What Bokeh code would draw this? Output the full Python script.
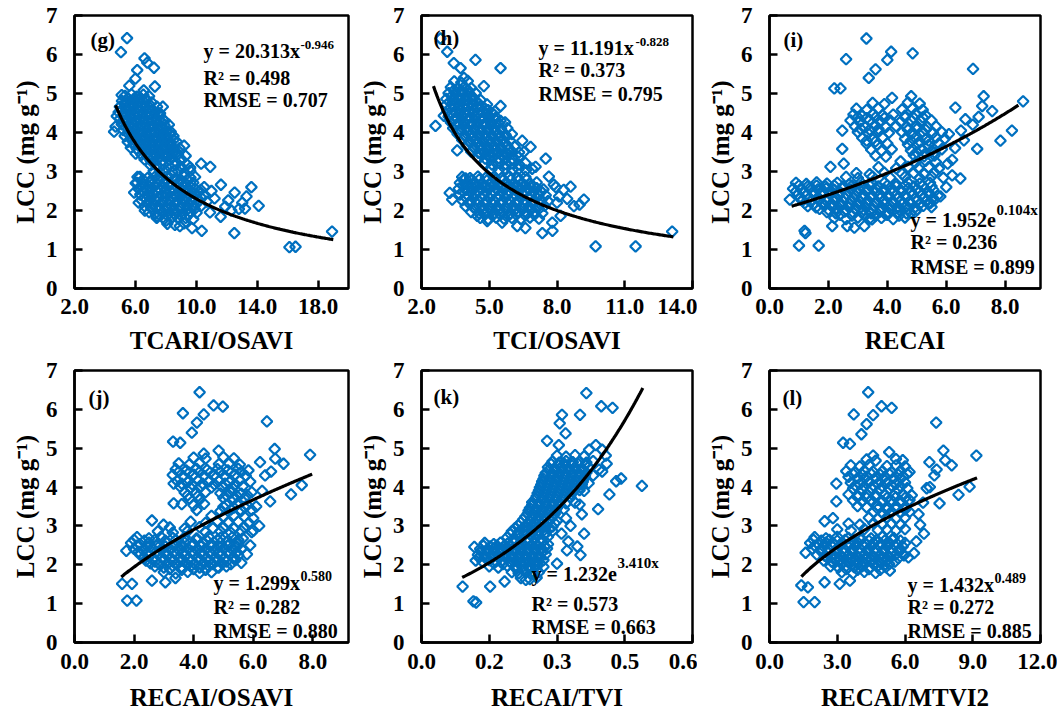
import numpy as np
from bokeh.plotting import figure
from bokeh.layouts import row, column
from bokeh.models import FixedTicker, Range1d, Label
from bokeh.embed import file_html
from bokeh.resources import INLINE

FONT = "Liberation Serif"
BLUE = "#0070C0"

# ---------------- shared axis values ----------------
y_ticks = [0, 1, 2, 3, 4, 5, 6, 7]
y_title = "LCC (mg g\u207b\u00b9)"

# ---------------- panel (g) ----------------
g_title = "TCARI/OSAVI"
g_xrange = [2, 20]
g_xticks = [2, 6, 10, 14, 18]
g_xticklabels = ["2.0", "6.0", "10.0", "14.0", "18.0"]
g_fit = ["power", 20.313, -0.946]
g_fit_x = [4.7, 19.0]
g_stats = ["y = 20.313x", "-0.946", "R\u00b2 = 0.498", "RMSE = 0.707"]
g_points = [
    (5.45, 6.42), (5.05, 6.06), (6.6, 5.9), (6.78, 5.79), (7.22, 5.66), (6.12, 5.6), (6.0, 5.38), (7.28, 5.18), (6.55, 5.08), (5.6, 5.2),
    (7.8, 4.66), (7.92, 4.3), (5.1, 4.96), (4.7, 4.15), (4.6, 4.02), (4.78, 4.42), (9.2, 3.66), (9.3, 3.4), (10.32, 3.2), (10.92, 3.12),
    (9.6, 3.1), (11.62, 2.66), (12.52, 2.46), (13.62, 2.6), (14.1, 2.12), (12.5, 1.42), (11.6, 1.84), (10.36, 1.48), (8.92, 1.6), (9.72, 1.55),
    (16.12, 1.06), (16.52, 1.07), (18.92, 1.46), (13.02, 2.2), (13.3, 2.36), (12.8, 2.04), (12.1, 2.26), (11.2, 2.31), (11.0, 2.5), (11.9, 2.1),
    (10.9, 1.95), (12.3, 2.0), (13.2, 2.05), (8.02, 1.74), (7.42, 1.86), (6.62, 2.0), (6.22, 2.2), (5.92, 2.46), (6.02, 2.7), (6.14, 2.86),
    (9.92, 2.86), (10.52, 2.6), (8.52, 3.5), (8.92, 3.3),
    (5.32, 4.94), (5.74, 4.98), (6.08, 4.92), (6.52, 4.97), (6.9, 4.93),
    (5.12, 4.81), (5.5, 4.78), (5.92, 4.83), (6.3, 4.79), (6.72, 4.82), (7.08, 4.77),
    (4.98, 4.66), (5.4, 4.63), (5.82, 4.68), (6.2, 4.64), (6.62, 4.67), (7.0, 4.62), (7.42, 4.66),
    (4.9, 4.52), (5.28, 4.48), (5.7, 4.53), (6.1, 4.49), (6.5, 4.51), (6.92, 4.47), (7.3, 4.52), (7.62, 4.49),
    (5.0, 4.36), (5.4, 4.33), (5.8, 4.37), (6.22, 4.34), (6.6, 4.36), (7.02, 4.32), (7.4, 4.37), (7.8, 4.34),
    (5.1, 4.21), (5.52, 4.18), (5.9, 4.22), (6.3, 4.19), (6.72, 4.21), (7.1, 4.17), (7.52, 4.22), (7.9, 4.19), (8.2, 4.2),
    (5.2, 4.06), (5.6, 4.03), (6.02, 4.07), (6.4, 4.04), (6.8, 4.06), (7.22, 4.02), (7.6, 4.07), (8.0, 4.04), (8.32, 4.02),
    (5.3, 3.91), (5.72, 3.88), (6.1, 3.92), (6.52, 3.89), (6.9, 3.91), (7.3, 3.87), (7.72, 3.92), (8.1, 3.89), (8.5, 3.91),
    (5.5, 3.76), (5.9, 3.73), (6.3, 3.77), (6.72, 3.74), (7.1, 3.76), (7.52, 3.72), (7.9, 3.77), (8.3, 3.74), (8.72, 3.76),
    (5.7, 3.61), (6.1, 3.58), (6.52, 3.62), (6.9, 3.59), (7.32, 3.61), (7.7, 3.57), (8.1, 3.62), (8.52, 3.59), (8.9, 3.6),
    (6.02, 3.46), (6.4, 3.43), (6.8, 3.47), (7.22, 3.44), (7.6, 3.46), (8.02, 3.42), (8.4, 3.47), (8.8, 3.44),
    (6.6, 3.31), (7.0, 3.28), (7.42, 3.32), (7.8, 3.29), (8.22, 3.31), (8.6, 3.27), (9.0, 3.32),
    (7.0, 3.16), (7.4, 3.13), (7.82, 3.17), (8.2, 3.14), (8.62, 3.16), (9.0, 3.12), (9.42, 3.17),
    (7.2, 3.01), (7.62, 2.98), (8.0, 3.02), (8.42, 2.99), (8.8, 3.01), (9.22, 2.97), (9.6, 3.02),
    (6.3, 2.86), (6.8, 2.83), (7.3, 2.87), (7.72, 2.84), (8.2, 2.86), (8.7, 2.82), (9.2, 2.87), (9.62, 2.84),
    (6.12, 2.71), (6.52, 2.68), (7.0, 2.72), (7.42, 2.69), (7.9, 2.71), (8.32, 2.67), (8.8, 2.72), (9.3, 2.69), (9.8, 2.71),
    (6.2, 2.56), (6.7, 2.53), (7.12, 2.57), (7.6, 2.54), (8.02, 2.56), (8.5, 2.52), (9.0, 2.57), (9.42, 2.54), (9.9, 2.56), (10.3, 2.53),
    (6.32, 2.41), (6.8, 2.38), (7.22, 2.42), (7.7, 2.39), (8.12, 2.41), (8.6, 2.37), (9.1, 2.42), (9.52, 2.39), (10.0, 2.41), (10.5, 2.38),
    (6.42, 2.26), (6.9, 2.23), (7.32, 2.27), (7.8, 2.24), (8.3, 2.26), (8.72, 2.22), (9.2, 2.27), (9.7, 2.24), (10.2, 2.26), (10.7, 2.23),
    (6.6, 2.11), (7.02, 2.08), (7.5, 2.12), (8.0, 2.09), (8.42, 2.11), (8.9, 2.07), (9.4, 2.12), (9.82, 2.09), (10.3, 2.11),
    (6.9, 1.96), (7.32, 1.93), (7.8, 1.97), (8.22, 1.94), (8.7, 1.96), (9.12, 1.92), (9.6, 1.97), (10.02, 1.94),
    (7.4, 1.81), (7.9, 1.78), (8.4, 1.82), (8.82, 1.79), (9.3, 1.81), (9.8, 1.78),
    (8.1, 1.66), (8.6, 1.63), (9.2, 1.67),
]
g_points_core = [
    (5.5, 4.88), (5.9, 4.86), (6.3, 4.88), (6.7, 4.86),
    (5.3, 4.73), (5.7, 4.71), (6.1, 4.73), (6.5, 4.71), (6.9, 4.73),
    (5.1, 4.58), (5.5, 4.56), (5.9, 4.58), (6.3, 4.56), (6.7, 4.58), (7.1, 4.56),
    (5.2, 4.43), (5.6, 4.41), (6.0, 4.43), (6.4, 4.41), (6.8, 4.43), (7.2, 4.41), (7.6, 4.43),
    (5.3, 4.28), (5.7, 4.26), (6.1, 4.28), (6.5, 4.26), (6.9, 4.28), (7.3, 4.26), (7.7, 4.28),
    (5.4, 4.13), (5.8, 4.11), (6.2, 4.13), (6.6, 4.11), (7.0, 4.13), (7.4, 4.11), (7.8, 4.13),
    (5.5, 3.98), (5.9, 3.96), (6.3, 3.98), (6.7, 3.96), (7.1, 3.98), (7.5, 3.96), (7.9, 3.98), (8.3, 3.96),
    (5.7, 3.83), (6.1, 3.81), (6.5, 3.83), (6.9, 3.81), (7.3, 3.83), (7.7, 3.81), (8.1, 3.83), (8.5, 3.81),
    (5.9, 3.68), (6.3, 3.66), (6.7, 3.68), (7.1, 3.66), (7.5, 3.68), (7.9, 3.66), (8.3, 3.68),
    (6.2, 3.53), (6.6, 3.51), (7.0, 3.53), (7.4, 3.51), (7.8, 3.53), (8.2, 3.51), (8.6, 3.53),
    (6.8, 3.38), (7.2, 3.36), (7.6, 3.38), (8.0, 3.36), (8.4, 3.38),
    (6.5, 2.79), (7.0, 2.77), (7.5, 2.79), (8.0, 2.77), (8.5, 2.79), (9.0, 2.77), (9.4, 2.79),
    (6.4, 2.64), (6.9, 2.62), (7.3, 2.64), (7.8, 2.62), (8.2, 2.64), (8.7, 2.62), (9.2, 2.64), (9.6, 2.62),
    (6.5, 2.49), (6.9, 2.47), (7.4, 2.49), (7.9, 2.47), (8.3, 2.49), (8.8, 2.47), (9.3, 2.49), (9.7, 2.47), (10.2, 2.49),
    (6.6, 2.34), (7.0, 2.32), (7.5, 2.34), (7.9, 2.32), (8.4, 2.34), (8.9, 2.32), (9.4, 2.34), (9.8, 2.32), (10.3, 2.34),
    (6.8, 2.19), (7.2, 2.17), (7.7, 2.19), (8.2, 2.17), (8.6, 2.19), (9.1, 2.17), (9.5, 2.19), (10.0, 2.17),
    (7.1, 2.04), (7.6, 2.02), (8.1, 2.04), (8.5, 2.02), (9.0, 2.04), (9.4, 2.02), (9.9, 2.04),
    (7.6, 1.89), (8.1, 1.87), (8.6, 1.89), (9.0, 1.87), (9.5, 1.89),
]

# ---------------- panel (h) ----------------
h_title = "TCI/OSAVI"
h_xrange = [2, 14]
h_xticks = [2, 5, 8, 11, 14]
h_xticklabels = ["2.0", "5.0", "8.0", "11.0", "14.0"]
h_fit = ["power", 11.191, -0.828]
h_fit_x = [2.53, 13.15]
h_stats = ["y = 11.191x", "-0.828", "R\u00b2 = 0.373", "RMSE = 0.795"]
h_points = [
    (2.84, 6.41), (3.14, 6.07), (3.43, 5.78), (3.73, 5.65), (3.88, 5.4), (4.39, 5.86), (5.5, 5.65), (4.76, 5.19), (5.5, 4.68), (5.5, 4.3),
    (2.62, 4.17), (2.99, 4.43), (6.46, 3.79), (6.83, 3.63), (6.53, 3.5), (7.5, 3.33), (7.05, 3.12), (7.86, 2.66), (8.6, 2.61), (9.19, 2.28),
    (8.75, 2.11), (8.16, 1.86), (7.79, 1.69), (7.35, 1.42), (7.8, 1.48), (9.71, 1.08), (11.48, 1.08), (13.1, 1.46), (3.36, 2.28), (3.95, 2.82),
    (3.58, 3.54), (4.47, 1.86), (4.91, 1.73), (5.57, 1.69), (6.24, 1.6), (7.64, 2.87), (8.3, 2.53), (8.09, 2.36), (6.6, 1.55), (3.25, 2.45),
    (8.0, 2.2), (7.95, 2.6), (9.0, 2.15), (8.45, 2.3),
    (3.45, 5.31), (3.76, 5.28), (4.05, 5.32),
    (3.3, 5.16), (3.62, 5.13), (3.9, 5.17), (4.2, 5.14),
    (3.2, 5.01), (3.52, 4.98), (3.8, 5.02), (4.12, 4.99), (4.4, 5.01),
    (3.1, 4.86), (3.42, 4.83), (3.7, 4.87), (4.02, 4.84), (4.3, 4.86), (4.62, 4.83),
    (3.1, 4.71), (3.42, 4.68), (3.7, 4.72), (4.02, 4.69), (4.3, 4.71), (4.62, 4.68), (4.9, 4.72),
    (3.15, 4.56), (3.47, 4.53), (3.75, 4.57), (4.07, 4.54), (4.35, 4.56), (4.67, 4.53), (4.95, 4.57), (5.25, 4.54),
    (3.2, 4.41), (3.52, 4.38), (3.8, 4.42), (4.12, 4.39), (4.4, 4.41), (4.72, 4.38), (5.0, 4.42), (5.3, 4.39),
    (3.3, 4.26), (3.62, 4.23), (3.9, 4.27), (4.22, 4.24), (4.5, 4.26), (4.82, 4.23), (5.1, 4.27), (5.42, 4.24), (5.7, 4.26),
    (3.4, 4.11), (3.72, 4.08), (4.0, 4.12), (4.32, 4.09), (4.6, 4.11), (4.92, 4.08), (5.2, 4.12), (5.52, 4.09), (5.8, 4.11),
    (3.6, 3.96), (3.92, 3.93), (4.2, 3.97), (4.52, 3.94), (4.8, 3.96), (5.12, 3.93), (5.4, 3.97), (5.72, 3.94), (6.0, 3.96),
    (3.8, 3.81), (4.12, 3.78), (4.4, 3.82), (4.72, 3.79), (5.0, 3.81), (5.32, 3.78), (5.6, 3.82), (5.92, 3.79),
    (4.0, 3.66), (4.32, 3.63), (4.6, 3.67), (4.92, 3.64), (5.2, 3.66), (5.52, 3.63), (5.8, 3.67), (6.12, 3.64),
    (4.2, 3.51), (4.52, 3.48), (4.8, 3.52), (5.12, 3.49), (5.4, 3.51), (5.72, 3.48), (6.0, 3.52), (6.32, 3.49),
    (4.5, 3.36), (4.82, 3.33), (5.1, 3.37), (5.42, 3.34), (5.7, 3.36), (6.02, 3.33), (6.3, 3.37),
    (4.8, 3.21), (5.12, 3.18), (5.4, 3.22), (5.72, 3.19), (6.0, 3.21), (6.32, 3.18), (6.6, 3.22),
    (5.1, 3.06), (5.42, 3.03), (5.7, 3.07), (6.02, 3.04), (6.3, 3.06), (6.62, 3.03), (6.9, 3.07),
    (3.8, 2.86), (4.15, 2.83), (4.5, 2.87), (4.85, 2.84), (5.2, 2.86), (5.55, 2.83), (5.9, 2.87), (6.25, 2.84), (6.6, 2.86),
    (3.7, 2.71), (4.02, 2.68), (4.35, 2.72), (4.7, 2.69), (5.05, 2.71), (5.4, 2.68), (5.75, 2.72), (6.1, 2.69), (6.45, 2.71), (6.8, 2.68), (7.1, 2.72),
    (3.65, 2.56), (4.0, 2.53), (4.3, 2.57), (4.65, 2.54), (5.0, 2.56), (5.35, 2.53), (5.7, 2.57), (6.05, 2.54), (6.4, 2.56), (6.75, 2.53), (7.1, 2.57), (7.4, 2.54),
    (3.7, 2.41), (4.05, 2.38), (4.4, 2.42), (4.75, 2.39), (5.1, 2.41), (5.45, 2.38), (5.8, 2.42), (6.15, 2.39), (6.5, 2.41), (6.85, 2.38), (7.2, 2.42), (7.5, 2.39),
    (3.8, 2.26), (4.15, 2.23), (4.5, 2.27), (4.85, 2.24), (5.2, 2.26), (5.55, 2.23), (5.9, 2.27), (6.25, 2.24), (6.6, 2.26), (6.95, 2.23), (7.3, 2.27), (7.6, 2.24),
    (3.95, 2.11), (4.3, 2.08), (4.65, 2.12), (5.0, 2.09), (5.35, 2.11), (5.7, 2.08), (6.05, 2.12), (6.4, 2.09), (6.75, 2.11), (7.1, 2.08), (7.45, 2.12),
    (4.2, 1.96), (4.55, 1.93), (4.9, 1.97), (5.25, 1.94), (5.6, 1.96), (5.95, 1.93), (6.3, 1.97), (6.65, 1.94), (7.0, 1.96), (7.35, 1.93),
    (4.6, 1.81), (4.95, 1.78), (5.3, 1.82), (5.65, 1.79), (6.0, 1.81), (6.4, 1.78), (6.8, 1.82), (7.2, 1.79),
]
h_points_core = [
    (3.45, 5.09), (3.75, 5.07), (4.05, 5.09),
    (3.35, 4.94), (3.65, 4.92), (3.95, 4.94), (4.25, 4.92),
    (3.25, 4.79), (3.55, 4.77), (3.85, 4.79), (4.15, 4.77), (4.45, 4.79),
    (3.3, 4.64), (3.6, 4.62), (3.9, 4.64), (4.2, 4.62), (4.5, 4.64), (4.8, 4.62),
    (3.35, 4.49), (3.65, 4.47), (3.95, 4.49), (4.25, 4.47), (4.55, 4.49), (4.85, 4.47), (5.15, 4.49),
    (3.45, 4.34), (3.75, 4.32), (4.05, 4.34), (4.35, 4.32), (4.65, 4.34), (4.95, 4.32), (5.25, 4.34),
    (3.55, 4.19), (3.85, 4.17), (4.15, 4.19), (4.45, 4.17), (4.75, 4.19), (5.05, 4.17), (5.35, 4.19),
    (3.75, 4.04), (4.05, 4.02), (4.35, 4.04), (4.65, 4.02), (4.95, 4.04), (5.25, 4.02), (5.55, 4.04),
    (3.95, 3.89), (4.25, 3.87), (4.55, 3.89), (4.85, 3.87), (5.15, 3.89), (5.45, 3.87), (5.75, 3.89),
    (4.15, 3.74), (4.45, 3.72), (4.75, 3.74), (5.05, 3.72), (5.35, 3.74), (5.65, 3.72),
    (4.35, 3.59), (4.65, 3.57), (4.95, 3.59), (5.25, 3.57), (5.55, 3.59), (5.85, 3.57),
    (4.65, 3.44), (4.95, 3.42), (5.25, 3.44), (5.55, 3.42), (5.85, 3.44),
    (3.85, 2.79), (4.2, 2.77), (4.55, 2.79), (4.9, 2.77), (5.25, 2.79), (5.6, 2.77), (5.95, 2.79), (6.3, 2.77), (6.65, 2.79),
    (3.85, 2.64), (4.2, 2.62), (4.5, 2.64), (4.85, 2.62), (5.2, 2.64), (5.55, 2.62), (5.9, 2.64), (6.25, 2.62), (6.6, 2.64), (6.95, 2.62),
    (3.85, 2.49), (4.2, 2.47), (4.5, 2.49), (4.85, 2.47), (5.2, 2.49), (5.55, 2.47), (5.9, 2.49), (6.25, 2.47), (6.6, 2.49), (6.95, 2.47), (7.3, 2.49),
    (3.95, 2.34), (4.3, 2.32), (4.65, 2.34), (5.0, 2.32), (5.35, 2.34), (5.7, 2.32), (6.05, 2.34), (6.4, 2.32), (6.75, 2.34), (7.1, 2.32),
    (4.1, 2.19), (4.45, 2.17), (4.8, 2.19), (5.15, 2.17), (5.5, 2.19), (5.85, 2.17), (6.2, 2.19), (6.55, 2.17), (6.9, 2.19), (7.25, 2.17),
    (4.4, 2.04), (4.75, 2.02), (5.1, 2.04), (5.45, 2.02), (5.8, 2.04), (6.15, 2.02), (6.5, 2.04), (6.85, 2.02), (7.2, 2.04),
    (4.8, 1.89), (5.15, 1.87), (5.5, 1.89), (5.85, 1.87), (6.2, 1.89), (6.6, 1.87), (7.0, 1.89),
]

# ---------------- panel (i) ----------------
i_title = "RECAI"
i_xrange = [0, 9.2]
i_xticks = [0, 2, 4, 6, 8]
i_xticklabels = ["0.0", "2.0", "4.0", "6.0", "8.0"]
i_fit = ["exp", 1.952, 0.104]
i_fit_x = [0.75, 8.45]
i_stats = ["y = 1.952e", "0.104x", "R\u00b2 = 0.236", "RMSE = 0.899"]
i_points = [
    (3.29, 6.41), (4.13, 6.07), (4.0, 5.86), (4.86, 6.03), (2.6, 5.88), (3.6, 5.62), (3.37, 5.4), (2.2, 5.13), (2.41, 5.13), (6.91, 5.63),
    (4.81, 4.93), (4.16, 4.89), (7.27, 4.93), (8.61, 4.8), (7.56, 4.55), (7.22, 4.68), (8.23, 4.05), (7.84, 3.79), (7.05, 3.58), (6.48, 2.82),
    (6.65, 4.34), (6.31, 4.64), (2.47, 4.05), (2.47, 3.58), (2.07, 3.12), (2.52, 3.2), (1.0, 1.1), (1.67, 1.1), (1.19, 1.48), (1.22, 1.42),
    (2.88, 1.56), (3.22, 1.6), (2.64, 1.6), (0.69, 2.28), (2.13, 1.6), (6.09, 3.96), (6.05, 3.2), (5.8, 2.36), (5.46, 2.19), (4.79, 1.94),
    (3.94, 1.9), (3.48, 1.77), (6.5, 4.05), (6.3, 3.6), (6.9, 4.2), (7.1, 4.4), (6.2, 3.3), (6.6, 3.8), (6.0, 2.6), (6.2, 2.9),
    (3.5, 4.76), (3.9, 4.73), (4.7, 4.77), (5.1, 4.74),
    (2.95, 4.61), (3.3, 4.58), (3.7, 4.62), (4.5, 4.59), (4.85, 4.61), (5.2, 4.58),
    (2.85, 4.46), (3.15, 4.43), (3.5, 4.47), (3.85, 4.44), (4.2, 4.46), (4.6, 4.43), (4.95, 4.47), (5.3, 4.44),
    (2.75, 4.31), (3.05, 4.28), (3.4, 4.32), (3.75, 4.29), (4.1, 4.31), (4.45, 4.28), (4.8, 4.32), (5.15, 4.29), (5.5, 4.31),
    (2.9, 4.16), (3.25, 4.13), (3.6, 4.17), (3.95, 4.14), (4.3, 4.16), (4.65, 4.13), (5.0, 4.17), (5.35, 4.14), (5.65, 4.16),
    (3.0, 4.01), (3.35, 3.98), (3.7, 4.02), (4.05, 3.99), (4.5, 4.01), (4.85, 3.98), (5.2, 4.02), (5.55, 3.99), (5.85, 4.01),
    (3.15, 3.86), (3.5, 3.83), (3.85, 3.87), (4.6, 3.84), (4.95, 3.86), (5.3, 3.83), (5.65, 3.87), (5.95, 3.84),
    (3.3, 3.71), (3.65, 3.68), (4.0, 3.72), (4.7, 3.69), (5.05, 3.71), (5.4, 3.68), (5.75, 3.72),
    (3.45, 3.56), (3.8, 3.53), (4.15, 3.57), (4.8, 3.54), (5.15, 3.56), (5.5, 3.53), (5.85, 3.57),
    (3.6, 3.41), (3.95, 3.38), (4.9, 3.42), (5.25, 3.39), (5.6, 3.41),
    (4.45, 3.26), (4.95, 3.23), (5.3, 3.27), (5.65, 3.24),
    (3.7, 3.11), (4.3, 3.08), (4.7, 3.12), (5.05, 3.09), (5.4, 3.11), (5.75, 3.08),
    (2.95, 2.96), (3.4, 2.93), (3.9, 2.97), (4.5, 2.94), (4.9, 2.96), (5.25, 2.93), (5.6, 2.97),
    (2.6, 2.86), (3.0, 2.83), (3.5, 2.87), (4.1, 2.84), (4.6, 2.86), (5.1, 2.83), (5.5, 2.87), (5.9, 2.84),
    (0.9, 2.71), (1.25, 2.68), (1.6, 2.72), (1.95, 2.69), (2.3, 2.71), (2.7, 2.67), (3.1, 2.72), (3.5, 2.69), (3.9, 2.71), (4.3, 2.68), (4.7, 2.72), (5.1, 2.69), (5.45, 2.71),
    (0.8, 2.56), (1.08, 2.53), (1.36, 2.57), (1.64, 2.54), (1.92, 2.56), (2.2, 2.53), (2.48, 2.57), (2.76, 2.54), (3.04, 2.56), (3.32, 2.53), (3.6, 2.57), (3.88, 2.54), (4.16, 2.56), (4.44, 2.53), (4.72, 2.57), (5.0, 2.54), (5.28, 2.56), (5.56, 2.53),
    (0.95, 2.41), (1.23, 2.38), (1.51, 2.42), (1.79, 2.39), (2.07, 2.41), (2.35, 2.38), (2.63, 2.42), (2.91, 2.39), (3.19, 2.41), (3.47, 2.38), (3.75, 2.42), (4.03, 2.39), (4.31, 2.41), (4.59, 2.38), (4.87, 2.42), (5.15, 2.39), (5.43, 2.41), (5.71, 2.38),
    (1.1, 2.26), (1.38, 2.23), (1.66, 2.27), (1.94, 2.24), (2.22, 2.26), (2.5, 2.23), (2.78, 2.27), (3.06, 2.24), (3.34, 2.26), (3.62, 2.23), (3.9, 2.27), (4.18, 2.24), (4.46, 2.26), (4.74, 2.23), (5.02, 2.27), (5.3, 2.24), (5.58, 2.26),
    (1.3, 2.11), (1.58, 2.08), (1.86, 2.12), (2.14, 2.09), (2.42, 2.11), (2.7, 2.08), (2.98, 2.12), (3.26, 2.09), (3.54, 2.11), (3.82, 2.08), (4.1, 2.12), (4.38, 2.09), (4.66, 2.11), (4.94, 2.08), (5.22, 2.12), (5.5, 2.09),
    (1.95, 1.96), (2.25, 1.93), (2.55, 1.97), (2.85, 1.94), (3.15, 1.96), (3.45, 1.93), (3.75, 1.97), (4.05, 1.94), (4.35, 1.96), (4.65, 1.93), (4.95, 1.97),
    (2.2, 1.81), (2.6, 1.78), (3.0, 1.82), (3.4, 1.79), (3.8, 1.81), (4.2, 1.78), (4.6, 1.82),
]
i_points_core = [
    (1.0, 2.64), (1.3, 2.62), (1.6, 2.64), (1.9, 2.62), (2.2, 2.64), (2.5, 2.62), (2.8, 2.64), (3.1, 2.62), (3.4, 2.64), (3.7, 2.62), (4.0, 2.64), (4.3, 2.62), (4.6, 2.64), (4.9, 2.62), (5.2, 2.64), (5.5, 2.62),
    (0.9, 2.49), (1.2, 2.47), (1.5, 2.49), (1.8, 2.47), (2.1, 2.49), (2.4, 2.47), (2.7, 2.49), (3.0, 2.47), (3.3, 2.49), (3.6, 2.47), (3.9, 2.49), (4.2, 2.47), (4.5, 2.49), (4.8, 2.47), (5.1, 2.49), (5.4, 2.47),
    (1.05, 2.34), (1.35, 2.32), (1.65, 2.34), (1.95, 2.32), (2.25, 2.34), (2.55, 2.32), (2.85, 2.34), (3.15, 2.32), (3.45, 2.34), (3.75, 2.32), (4.05, 2.34), (4.35, 2.32), (4.65, 2.34), (4.95, 2.32), (5.25, 2.34), (5.55, 2.32),
    (1.2, 2.19), (1.5, 2.17), (1.8, 2.19), (2.1, 2.17), (2.4, 2.19), (2.7, 2.17), (3.0, 2.19), (3.3, 2.17), (3.6, 2.19), (3.9, 2.17), (4.2, 2.19), (4.5, 2.17), (4.8, 2.19), (5.1, 2.17), (5.4, 2.19),
    (1.7, 2.04), (2.0, 2.02), (2.3, 2.04), (2.6, 2.02), (2.9, 2.04), (3.2, 2.02), (3.5, 2.04), (3.8, 2.02), (4.1, 2.04), (4.4, 2.02), (4.7, 2.04), (5.0, 2.02),
    (2.4, 1.89), (2.8, 1.87), (3.2, 1.89), (3.6, 1.87), (4.0, 1.89), (4.4, 1.87),
    (3.0, 4.39), (3.3, 4.37), (3.6, 4.39), (3.9, 4.37), (4.6, 4.39), (4.9, 4.37), (5.2, 4.39),
    (3.1, 4.09), (3.4, 4.07), (3.7, 4.09), (4.7, 4.07), (5.0, 4.09), (5.3, 4.07),
    (3.3, 3.79), (3.6, 3.77), (4.8, 3.79), (5.1, 3.77), (5.4, 3.79),
    (5.0, 3.49), (5.3, 3.47), (5.6, 3.49),
]

# ---------------- panel (j) ----------------
j_title = "RECAI/OSAVI"
j_xrange = [0, 9.2]
j_xticks = [0, 2, 4, 6, 8]
j_xticklabels = ["0.0", "2.0", "4.0", "6.0", "8.0"]
j_fit = ["power", 1.299, 0.580]
j_fit_x = [1.57, 7.98]
j_stats = ["y = 1.299x", "0.580", "R\u00b2 = 0.282", "RMSE = 0.880"]
j_points = [
    (4.2, 6.44), (3.64, 5.9), (4.34, 5.87), (4.67, 6.1), (4.98, 6.07), (4.11, 5.66), (3.94, 5.4), (3.31, 5.17), (3.55, 5.14), (6.46, 5.69),
    (4.84, 4.94), (4.34, 4.86), (6.72, 4.98), (7.91, 4.83), (7.02, 4.6), (6.74, 4.73), (7.63, 4.05), (7.27, 3.81), (6.57, 3.63), (6.01, 2.88),
    (6.23, 4.64), (5.84, 4.43), (3.33, 4.09), (3.33, 3.58), (2.99, 3.03), (2.6, 3.14), (1.6, 1.51), (1.77, 1.08), (2.08, 1.08), (1.93, 1.51),
    (1.74, 2.36), (2.6, 1.59), (3.05, 1.55), (3.39, 1.66), (5.79, 2.27), (5.34, 2.19), (4.84, 1.93),
    (6.4, 4.3), (6.1, 3.5), (6.3, 3.9), (6.6, 4.4), (6.0, 3.2), (5.9, 2.5), (6.2, 3.0), (5.6, 2.05),
    (4.0, 4.76), (4.4, 4.73), (5.0, 4.77), (5.35, 4.74),
    (3.5, 4.61), (3.85, 4.58), (4.2, 4.62), (4.85, 4.59), (5.2, 4.61), (5.55, 4.58),
    (3.4, 4.46), (3.75, 4.43), (4.1, 4.47), (4.45, 4.44), (4.8, 4.46), (5.15, 4.43), (5.5, 4.47),
    (3.3, 4.31), (3.65, 4.28), (4.0, 4.32), (4.35, 4.29), (4.7, 4.31), (5.05, 4.28), (5.4, 4.32), (5.75, 4.29),
    (3.45, 4.16), (3.8, 4.13), (4.15, 4.17), (4.5, 4.14), (4.85, 4.16), (5.2, 4.13), (5.55, 4.17), (5.9, 4.14),
    (3.55, 4.01), (3.9, 3.98), (4.25, 4.02), (4.6, 3.99), (4.95, 4.01), (5.3, 3.98), (5.65, 4.02),
    (3.7, 3.86), (4.05, 3.83), (4.4, 3.87), (4.9, 3.84), (5.25, 3.86), (5.6, 3.83), (5.95, 3.87),
    (3.85, 3.71), (4.2, 3.68), (5.0, 3.72), (5.35, 3.69), (5.7, 3.71),
    (3.6, 3.56), (4.0, 3.53), (4.35, 3.57), (5.1, 3.54), (5.45, 3.56), (5.8, 3.53),
    (4.1, 3.41), (4.9, 3.38), (5.25, 3.42), (5.6, 3.39), (5.95, 3.41),
    (4.6, 3.26), (5.0, 3.23), (5.35, 3.27), (5.7, 3.24),
    (3.9, 3.11), (4.4, 3.08), (4.8, 3.12), (5.15, 3.09), (5.5, 3.11), (5.85, 3.08),
    (3.2, 2.96), (3.7, 2.93), (4.2, 2.97), (4.65, 2.94), (5.0, 2.96), (5.35, 2.93), (5.7, 2.97),
    (2.8, 2.86), (3.3, 2.83), (3.8, 2.87), (4.4, 2.84), (4.9, 2.86), (5.25, 2.83), (5.6, 2.87), (5.95, 2.84),
    (2.1, 2.71), (2.5, 2.68), (2.9, 2.72), (3.3, 2.69), (3.7, 2.71), (4.1, 2.68), (4.5, 2.72), (4.9, 2.69), (5.3, 2.71), (5.65, 2.68),
    (1.9, 2.56), (2.2, 2.53), (2.5, 2.57), (2.8, 2.54), (3.1, 2.56), (3.4, 2.53), (3.7, 2.57), (4.0, 2.54), (4.3, 2.56), (4.6, 2.53), (4.9, 2.57), (5.2, 2.54), (5.5, 2.56),
    (2.0, 2.41), (2.3, 2.38), (2.6, 2.42), (2.9, 2.39), (3.2, 2.41), (3.5, 2.38), (3.8, 2.42), (4.1, 2.39), (4.4, 2.41), (4.7, 2.38), (5.0, 2.42), (5.3, 2.39), (5.6, 2.41),
    (2.2, 2.26), (2.5, 2.23), (2.8, 2.27), (3.1, 2.24), (3.4, 2.26), (3.7, 2.23), (4.0, 2.27), (4.3, 2.24), (4.6, 2.26), (4.9, 2.23), (5.2, 2.27), (5.5, 2.24),
    (2.4, 2.11), (2.7, 2.08), (3.0, 2.12), (3.3, 2.09), (3.6, 2.11), (3.9, 2.08), (4.2, 2.12), (4.5, 2.09), (4.8, 2.11), (5.1, 2.08), (5.4, 2.12),
    (2.7, 1.96), (3.0, 1.93), (3.3, 1.97), (3.6, 1.94), (3.9, 1.96), (4.2, 1.93), (4.5, 1.97), (4.8, 1.94), (5.1, 1.96),
    (3.0, 1.81), (3.4, 1.78), (3.8, 1.82), (4.2, 1.79), (4.6, 1.81),
]
j_points_core = [
    (2.0, 2.64), (2.35, 2.62), (2.7, 2.64), (3.05, 2.62), (3.4, 2.64), (3.75, 2.62), (4.1, 2.64), (4.45, 2.62), (4.8, 2.64), (5.15, 2.62), (5.5, 2.64),
    (2.1, 2.49), (2.45, 2.47), (2.75, 2.49), (3.05, 2.47), (3.35, 2.49), (3.65, 2.47), (3.95, 2.49), (4.25, 2.47), (4.55, 2.49), (4.85, 2.47), (5.15, 2.49), (5.45, 2.47),
    (2.15, 2.34), (2.45, 2.32), (2.75, 2.34), (3.05, 2.32), (3.35, 2.34), (3.65, 2.32), (3.95, 2.34), (4.25, 2.32), (4.55, 2.34), (4.85, 2.32), (5.15, 2.34), (5.45, 2.32),
    (2.35, 2.19), (2.65, 2.17), (2.95, 2.19), (3.25, 2.17), (3.55, 2.19), (3.85, 2.17), (4.15, 2.19), (4.45, 2.17), (4.75, 2.19), (5.05, 2.17), (5.35, 2.19),
    (2.55, 2.04), (2.85, 2.02), (3.15, 2.04), (3.45, 2.02), (3.75, 2.04), (4.05, 2.02), (4.35, 2.04), (4.65, 2.02), (4.95, 2.04), (5.25, 2.02),
    (3.2, 1.89), (3.6, 1.87), (4.0, 1.89), (4.4, 1.87),
    (3.5, 4.39), (3.85, 4.37), (4.2, 4.39), (4.55, 4.37), (4.9, 4.39), (5.25, 4.37), (5.6, 4.39),
    (3.6, 4.09), (3.95, 4.07), (4.3, 4.09), (4.7, 4.07), (5.05, 4.09), (5.4, 4.07),
    (3.8, 3.79), (4.15, 3.77), (5.1, 3.79), (5.45, 3.77), (5.8, 3.79),
    (5.0, 3.49), (5.35, 3.47), (5.7, 3.49),
]

# ---------------- panel (k) ----------------
k_title = "RECAI/TVI"
k_xrange = [0, 0.6]
k_xticks = [0, 0.15, 0.3, 0.45, 0.6]
k_xticklabels = ["0.0", "0.2", "0.3", "0.5", "0.6"]
k_fit = ["exp", 1.232, 3.410]
k_fit_x = [0.09, 0.49]
k_stats = ["y = 1.232e", "3.410x", "R\u00b2 = 0.573", "RMSE = 0.663"]
k_points = [
    (0.365, 6.42), (0.311, 5.86), (0.351, 5.86), (0.398, 6.08), (0.423, 6.04), (0.306, 5.64), (0.319, 5.38), (0.278, 5.19), (0.304, 5.08), (0.386, 5.08),
    (0.371, 4.96), (0.4, 4.96), (0.408, 4.81), (0.393, 4.45), (0.431, 4.15), (0.442, 4.22), (0.488, 4.03), (0.416, 3.81), (0.391, 3.43), (0.36, 2.8),
    (0.352, 2.25), (0.345, 2.47), (0.322, 2.37), (0.3, 2.03), (0.27, 1.95), (0.231, 1.61), (0.184, 1.57), (0.152, 1.44), (0.091, 1.44), (0.115, 1.06),
    (0.121, 1.03), (0.117, 2.46), (0.278, 2.42),
    (0.33, 3.0), (0.32, 3.2), (0.31, 2.8), (0.34, 3.6), (0.36, 3.9), (0.37, 4.1), (0.38, 4.3), (0.355, 3.3), (0.325, 2.6), (0.4, 4.4), (0.41, 4.6), (0.35, 3.55),
    (0.3, 4.81), (0.32, 4.78), (0.34, 4.82), (0.36, 4.79),
    (0.29, 4.66), (0.305, 4.63), (0.32, 4.67), (0.335, 4.64), (0.35, 4.66), (0.365, 4.63), (0.38, 4.67),
    (0.28, 4.51), (0.295, 4.48), (0.31, 4.52), (0.325, 4.49), (0.34, 4.51), (0.355, 4.48), (0.37, 4.52),
    (0.275, 4.36), (0.29, 4.33), (0.305, 4.37), (0.32, 4.34), (0.335, 4.36), (0.35, 4.33), (0.365, 4.37),
    (0.27, 4.21), (0.285, 4.18), (0.3, 4.22), (0.315, 4.19), (0.33, 4.21), (0.345, 4.18), (0.36, 4.22),
    (0.265, 4.06), (0.28, 4.03), (0.295, 4.07), (0.31, 4.04), (0.325, 4.06), (0.34, 4.03), (0.355, 4.07),
    (0.26, 3.91), (0.275, 3.88), (0.29, 3.92), (0.305, 3.89), (0.32, 3.91), (0.335, 3.88), (0.35, 3.92),
    (0.255, 3.76), (0.27, 3.73), (0.285, 3.77), (0.3, 3.74), (0.315, 3.76), (0.33, 3.73),
    (0.245, 3.61), (0.26, 3.58), (0.275, 3.62), (0.29, 3.59), (0.305, 3.61), (0.32, 3.58),
    (0.24, 3.46), (0.255, 3.43), (0.27, 3.47), (0.285, 3.44), (0.3, 3.46), (0.315, 3.43),
    (0.235, 3.31), (0.25, 3.28), (0.265, 3.32), (0.28, 3.29), (0.295, 3.31),
    (0.225, 3.16), (0.24, 3.13), (0.255, 3.17), (0.27, 3.14), (0.285, 3.16), (0.3, 3.13),
    (0.215, 3.01), (0.23, 2.98), (0.245, 3.02), (0.26, 2.99), (0.275, 3.01), (0.29, 2.98),
    (0.2, 2.86), (0.215, 2.83), (0.23, 2.87), (0.245, 2.84), (0.26, 2.86), (0.275, 2.83), (0.29, 2.87),
    (0.19, 2.71), (0.205, 2.68), (0.22, 2.72), (0.235, 2.69), (0.25, 2.71), (0.265, 2.68), (0.28, 2.72),
    (0.14, 2.56), (0.16, 2.53), (0.175, 2.57), (0.19, 2.54), (0.205, 2.56), (0.22, 2.53), (0.235, 2.57), (0.25, 2.54), (0.265, 2.56), (0.28, 2.53),
    (0.13, 2.41), (0.145, 2.38), (0.16, 2.42), (0.175, 2.39), (0.19, 2.41), (0.205, 2.38), (0.22, 2.42), (0.235, 2.39), (0.25, 2.41), (0.265, 2.38),
    (0.125, 2.26), (0.14, 2.23), (0.155, 2.27), (0.17, 2.24), (0.185, 2.26), (0.2, 2.23), (0.215, 2.27), (0.23, 2.24), (0.245, 2.26), (0.26, 2.23), (0.275, 2.27),
    (0.12, 2.11), (0.135, 2.08), (0.15, 2.12), (0.165, 2.09), (0.18, 2.11), (0.195, 2.08), (0.21, 2.12), (0.225, 2.09), (0.24, 2.11), (0.255, 2.08), (0.27, 2.12),
    (0.15, 1.96), (0.17, 1.93), (0.19, 1.97), (0.21, 1.94), (0.225, 1.96), (0.24, 1.93), (0.255, 1.97),
    (0.2, 1.81), (0.215, 1.78), (0.23, 1.82), (0.245, 1.79), (0.26, 1.81),
    (0.22, 1.66), (0.24, 1.63), (0.255, 1.67),
]
k_points_core = [
    (0.137, 2.49), (0.152, 2.47), (0.167, 2.49), (0.182, 2.47), (0.197, 2.49), (0.212, 2.47), (0.227, 2.49), (0.242, 2.47), (0.257, 2.49), (0.272, 2.47),
    (0.132, 2.34), (0.147, 2.32), (0.162, 2.34), (0.177, 2.32), (0.192, 2.34), (0.207, 2.32), (0.222, 2.34), (0.237, 2.32), (0.252, 2.34), (0.267, 2.32),
    (0.127, 2.19), (0.142, 2.17), (0.157, 2.19), (0.172, 2.17), (0.187, 2.19), (0.202, 2.17), (0.217, 2.19), (0.232, 2.17), (0.247, 2.19), (0.262, 2.17),
    (0.16, 2.04), (0.18, 2.02), (0.2, 2.04), (0.217, 2.02), (0.232, 2.04), (0.247, 2.02), (0.262, 2.04),
    (0.21, 1.89), (0.225, 1.87), (0.24, 1.89), (0.255, 1.87),
    (0.197, 2.79), (0.212, 2.77), (0.227, 2.79), (0.242, 2.77), (0.257, 2.79), (0.272, 2.77),
    (0.207, 2.94), (0.222, 2.92), (0.237, 2.94), (0.252, 2.92), (0.267, 2.94), (0.282, 2.92),
    (0.22, 3.09), (0.235, 3.07), (0.25, 3.09), (0.265, 3.07), (0.28, 3.09), (0.295, 3.07),
    (0.23, 3.24), (0.245, 3.22), (0.26, 3.24), (0.275, 3.22), (0.29, 3.24),
    (0.237, 3.39), (0.252, 3.37), (0.267, 3.39), (0.282, 3.37), (0.297, 3.39),
    (0.245, 3.54), (0.26, 3.52), (0.275, 3.54), (0.29, 3.52), (0.305, 3.54),
    (0.252, 3.69), (0.267, 3.67), (0.282, 3.69), (0.297, 3.67), (0.312, 3.69),
    (0.257, 3.84), (0.272, 3.82), (0.287, 3.84), (0.302, 3.82), (0.317, 3.84), (0.332, 3.82),
    (0.262, 3.99), (0.277, 3.97), (0.292, 3.99), (0.307, 3.97), (0.322, 3.99), (0.337, 3.97), (0.352, 3.99),
    (0.267, 4.14), (0.282, 4.12), (0.297, 4.14), (0.312, 4.12), (0.327, 4.14), (0.342, 4.12), (0.357, 4.14),
    (0.272, 4.29), (0.287, 4.27), (0.302, 4.29), (0.317, 4.27), (0.332, 4.29), (0.347, 4.27), (0.362, 4.29),
    (0.282, 4.44), (0.297, 4.42), (0.312, 4.44), (0.327, 4.42), (0.342, 4.44), (0.357, 4.42),
    (0.287, 4.59), (0.302, 4.57), (0.317, 4.59), (0.332, 4.57), (0.347, 4.59), (0.362, 4.57),
]

# ---------------- panel (l) ----------------
l_title = "RECAI/MTVI2"
l_xrange = [0, 12]
l_xticks = [0, 3, 6, 9, 12]
l_xticklabels = ["0.0", "3.0", "6.0", "9.0", "12.0"]
l_fit = ["power", 1.432, 0.489]
l_fit_x = [1.41, 9.19]
l_stats = ["y = 1.432x", "0.489", "R\u00b2 = 0.272", "RMSE = 0.885"]
l_points = [
    (4.37, 6.44), (3.73, 5.87), (4.59, 5.85), (4.96, 6.08), (5.41, 6.04), (4.3, 5.62), (4.07, 5.36), (3.26, 5.14), (3.56, 5.11), (7.38, 5.66),
    (5.3, 4.9), (4.59, 4.81), (7.7, 4.94), (9.16, 4.81), (8.07, 4.56), (7.78, 4.69), (8.86, 4.01), (8.37, 3.8), (7.53, 3.58), (6.84, 2.8),
    (7.08, 4.64), (2.96, 4.09), (2.96, 3.63), (2.81, 3.2), (2.44, 3.12), (1.41, 1.47), (1.51, 1.04), (2.0, 1.04), (1.7, 1.42), (1.6, 2.31),
    (2.44, 1.55), (3.11, 1.51), (3.56, 1.59), (5.93, 2.27), (5.33, 1.85), (6.15, 2.19), (6.96, 3.97), (6.67, 3.03),
    (7.3, 4.3), (6.8, 3.6), (7.1, 4.0), (6.5, 2.6), (6.6, 3.3), (7.4, 4.45), (6.4, 2.3),
    (4.3, 4.71), (4.7, 4.68), (5.6, 4.72), (5.9, 4.69),
    (3.6, 4.56), (4.0, 4.53), (4.4, 4.57), (5.2, 4.54), (5.6, 4.56), (6.0, 4.53),
    (3.4, 4.41), (3.8, 4.38), (4.2, 4.42), (4.6, 4.39), (5.0, 4.41), (5.4, 4.38), (5.8, 4.42), (6.2, 4.39),
    (3.5, 4.26), (3.9, 4.23), (4.3, 4.27), (4.7, 4.24), (5.1, 4.26), (5.5, 4.23), (5.9, 4.27),
    (3.6, 4.11), (4.0, 4.08), (4.4, 4.12), (4.8, 4.09), (5.2, 4.11), (5.6, 4.08), (6.0, 4.12),
    (3.7, 3.96), (4.1, 3.93), (4.5, 3.97), (4.9, 3.94), (5.3, 3.96), (5.7, 3.93), (6.1, 3.97),
    (3.5, 3.81), (3.9, 3.78), (4.3, 3.82), (4.7, 3.79), (5.1, 3.81), (5.5, 3.78), (5.9, 3.82), (6.3, 3.79),
    (3.7, 3.66), (4.1, 3.63), (4.5, 3.67), (5.0, 3.64), (5.4, 3.66), (5.8, 3.63), (6.2, 3.67),
    (3.9, 3.51), (4.3, 3.48), (4.8, 3.52), (5.2, 3.49), (5.6, 3.51), (6.0, 3.48),
    (4.6, 3.36), (5.0, 3.33), (5.4, 3.37), (5.8, 3.34), (6.2, 3.36),
    (4.4, 3.21), (4.8, 3.18), (5.2, 3.22), (5.6, 3.19), (6.0, 3.21),
    (3.5, 3.06), (4.0, 3.03), (4.6, 3.07), (5.0, 3.04), (5.4, 3.06), (5.8, 3.03),
    (3.0, 2.91), (3.6, 2.88), (4.2, 2.92), (4.8, 2.89), (5.2, 2.91), (5.6, 2.88), (6.0, 2.92),
    (2.0, 2.71), (2.5, 2.68), (3.0, 2.72), (3.5, 2.69), (4.0, 2.71), (4.5, 2.68), (5.0, 2.72), (5.5, 2.69),
    (1.8, 2.56), (2.15, 2.53), (2.5, 2.57), (2.85, 2.54), (3.2, 2.56), (3.55, 2.53), (3.9, 2.57), (4.25, 2.54), (4.6, 2.56), (4.95, 2.53), (5.3, 2.57), (5.65, 2.54), (6.0, 2.56),
    (1.9, 2.41), (2.25, 2.38), (2.6, 2.42), (2.95, 2.39), (3.3, 2.41), (3.65, 2.38), (4.0, 2.42), (4.35, 2.39), (4.7, 2.41), (5.05, 2.38), (5.4, 2.42), (5.75, 2.39),
    (2.1, 2.26), (2.45, 2.23), (2.8, 2.27), (3.15, 2.24), (3.5, 2.26), (3.85, 2.23), (4.2, 2.27), (4.55, 2.24), (4.9, 2.26), (5.25, 2.23), (5.6, 2.27), (5.95, 2.24),
    (2.4, 2.11), (2.75, 2.08), (3.1, 2.12), (3.45, 2.09), (3.8, 2.11), (4.15, 2.08), (4.5, 2.12), (4.85, 2.09), (5.2, 2.11), (5.55, 2.08),
    (2.7, 1.96), (3.05, 1.93), (3.4, 1.97), (3.75, 1.94), (4.1, 1.96), (4.45, 1.93), (4.8, 1.97), (5.15, 1.94),
    (3.2, 1.81), (3.7, 1.78), (4.2, 1.82), (4.7, 1.79),
]
l_points_core = [
    (1.95, 2.64), (2.3, 2.62), (2.65, 2.64), (3.0, 2.62), (3.35, 2.64), (3.7, 2.62), (4.05, 2.64), (4.4, 2.62), (4.75, 2.64), (5.1, 2.62), (5.45, 2.64), (5.8, 2.62),
    (2.0, 2.49), (2.4, 2.47), (2.75, 2.49), (3.1, 2.47), (3.45, 2.49), (3.8, 2.47), (4.15, 2.49), (4.5, 2.47), (4.85, 2.49), (5.2, 2.47), (5.55, 2.49), (5.9, 2.47),
    (2.3, 2.34), (2.6, 2.32), (2.95, 2.34), (3.3, 2.32), (3.65, 2.34), (4.0, 2.32), (4.35, 2.34), (4.7, 2.32), (5.05, 2.34), (5.4, 2.32), (5.75, 2.34),
    (2.55, 2.19), (2.9, 2.17), (3.25, 2.19), (3.6, 2.17), (3.95, 2.19), (4.3, 2.17), (4.65, 2.19), (5.0, 2.17), (5.35, 2.19), (5.7, 2.17),
    (2.85, 2.04), (3.2, 2.02), (3.55, 2.04), (3.9, 2.02), (4.25, 2.04), (4.6, 2.02), (4.95, 2.04), (5.3, 2.02),
    (3.4, 1.89), (3.9, 1.87), (4.4, 1.89), (4.9, 1.87),
    (3.7, 4.34), (4.1, 4.32), (4.5, 4.34), (4.9, 4.32), (5.3, 4.34), (5.7, 4.32), (6.1, 4.34),
    (3.8, 4.04), (4.2, 4.02), (4.6, 4.04), (5.0, 4.02), (5.4, 4.04), (5.8, 4.02),
    (3.9, 3.74), (4.3, 3.72), (4.7, 3.74), (5.2, 3.72), (5.6, 3.74), (6.0, 3.72),
    (4.8, 3.44), (5.2, 3.42), (5.6, 3.44), (6.0, 3.42),
]

# ---------------- layout (pixels) ----------------
COLS = [(352, 74, 4), (345, 69, 5), (360, 72, 17)]      # width, border left, border right
ROWS = [(356, 15, 64, 10, 10), (357, 14, 69, 11, 12)]    # height, border top, border bottom, tick-label standoff, title standoff
# text placement relative to frame top-left (px): tag, main eq, superscript, R2 row, RMSE row
TEXT_POS = {
    "g": dict(tag=(16, 25), main=(129, 36), sup=(226, 30), r2=63, rmse=86, sup_size="13px"),
    "h": dict(tag=(12, 23), main=(117, 33), sup=(214, 27), r2=55, rmse=80, sup_size="13px"),
    "i": dict(tag=(14, 25), main=(141, 208), sup=(227, 197), r2=230, rmse=255, sup_size="15px"),
    "j": dict(tag=(14, 28), main=(139, 214), sup=(226, 207), r2=238, rmse=262, sup_size="14px"),
    "k": dict(tag=(12, 27), main=(110, 205), sup=(196, 194), r2=235, rmse=258, sup_size="15px"),
    "l": dict(tag=(13, 28), main=(138, 216), sup=(225, 209), r2=238, rmse=262, sup_size="14px"),
}


def make_panel(tag, points, xr, xticks, xlabels, xtitle, fit, fit_x, stats, col, rw):
    w, bl, br = col
    h, bt, bb, s_tick, s_title = rw
    fw = w - bl - br
    fh = h - bt - bb
    p = figure(width=w, height=h, x_range=Range1d(xr[0], xr[1]), y_range=Range1d(0, 7),
               output_backend="svg", toolbar_location=None,
               min_border_left=bl, min_border_right=br, min_border_top=bt, min_border_bottom=bb)
    p.background_fill_color = "white"
    p.border_fill_color = "white"
    p.outline_line_color = "black"
    p.outline_line_width = 2.5
    p.xgrid.visible = False
    p.ygrid.visible = False
    for ax in (p.xaxis[0], p.yaxis[0]):
        ax.axis_line_width = 2.5
        ax.axis_line_color = "black"
        ax.major_tick_in = 8
        ax.major_tick_out = 0
        ax.major_tick_line_width = 2.5
        ax.major_tick_line_color = "black"
        ax.minor_tick_line_color = None
        ax.major_label_text_font = FONT
        ax.major_label_text_font_size = "23px"
        ax.major_label_text_font_style = "bold"
        ax.major_label_text_color = "black"
        ax.axis_label_text_font = FONT
        ax.axis_label_text_font_size = "25px"
        ax.axis_label_text_font_style = "bold"
        ax.axis_label_text_color = "black"
    p.xaxis.ticker = FixedTicker(ticks=xticks)
    overrides = {}
    for t, l in zip(xticks, xlabels):
        overrides[float(t)] = l
        overrides[str(t)] = l
    p.xaxis.major_label_overrides = overrides
    p.yaxis.ticker = FixedTicker(ticks=y_ticks)
    p.xaxis.axis_label = xtitle
    p.yaxis.axis_label = y_title
    p.xaxis.major_label_standoff = s_tick
    p.xaxis.axis_label_standoff = s_title
    p.yaxis.major_label_standoff = 17
    p.yaxis.axis_label_standoff = 4

    xs = [pt[0] for pt in points]
    ys = [pt[1] for pt in points]
    p.scatter(xs, ys, marker="square", angle=np.pi / 4, size=7.6,
              fill_color=None, line_color=BLUE, line_width=2.2)

    fx = np.linspace(fit_x[0], fit_x[1], 200)
    if fit[0] == "power":
        fy = fit[1] * fx ** fit[2]
    else:
        fy = fit[1] * np.exp(fit[2] * fx)
    p.line(fx, fy, line_color="black", line_width=3.2)

    def to_data(dx, dy):
        return xr[0] + dx / fw * (xr[1] - xr[0]), 7.0 - dy / fh * 7.0

    tp = TEXT_POS[tag]

    def add_text(pos, text, size):
        x, y = to_data(*pos)
        p.add_layout(Label(x=x, y=y, text=text, text_font=FONT, text_font_size=size,
                           text_font_style="bold", text_color="black",
                           text_baseline="middle", text_align="left"))

    add_text(tp["tag"], "(" + tag + ")", "21px")
    add_text(tp["main"], stats[0], "20px")
    add_text(tp["sup"], stats[1], tp["sup_size"])
    add_text((tp["main"][0], tp["r2"]), stats[2], "20px")
    add_text((tp["main"][0], tp["rmse"]), stats[3], "20px")
    return p


pg = make_panel("g", g_points + g_points_core, g_xrange, g_xticks, g_xticklabels, g_title, g_fit, g_fit_x, g_stats, COLS[0], ROWS[0])
ph = make_panel("h", h_points + h_points_core, h_xrange, h_xticks, h_xticklabels, h_title, h_fit, h_fit_x, h_stats, COLS[1], ROWS[0])
pi = make_panel("i", i_points + i_points_core, i_xrange, i_xticks, i_xticklabels, i_title, i_fit, i_fit_x, i_stats, COLS[2], ROWS[0])
pj = make_panel("j", j_points + j_points_core, j_xrange, j_xticks, j_xticklabels, j_title, j_fit, j_fit_x, j_stats, COLS[0], ROWS[1])
pk = make_panel("k", k_points + k_points_core, k_xrange, k_xticks, k_xticklabels, k_title, k_fit, k_fit_x, k_stats, COLS[1], ROWS[1])
pl = make_panel("l", l_points + l_points_core, l_xrange, l_xticks, l_xticklabels, l_title, l_fit, l_fit_x, l_stats, COLS[2], ROWS[1])

layout = column(row(pg, ph, pi), row(pj, pk, pl))
open("out.html", "w").write(file_html(layout, INLINE))
